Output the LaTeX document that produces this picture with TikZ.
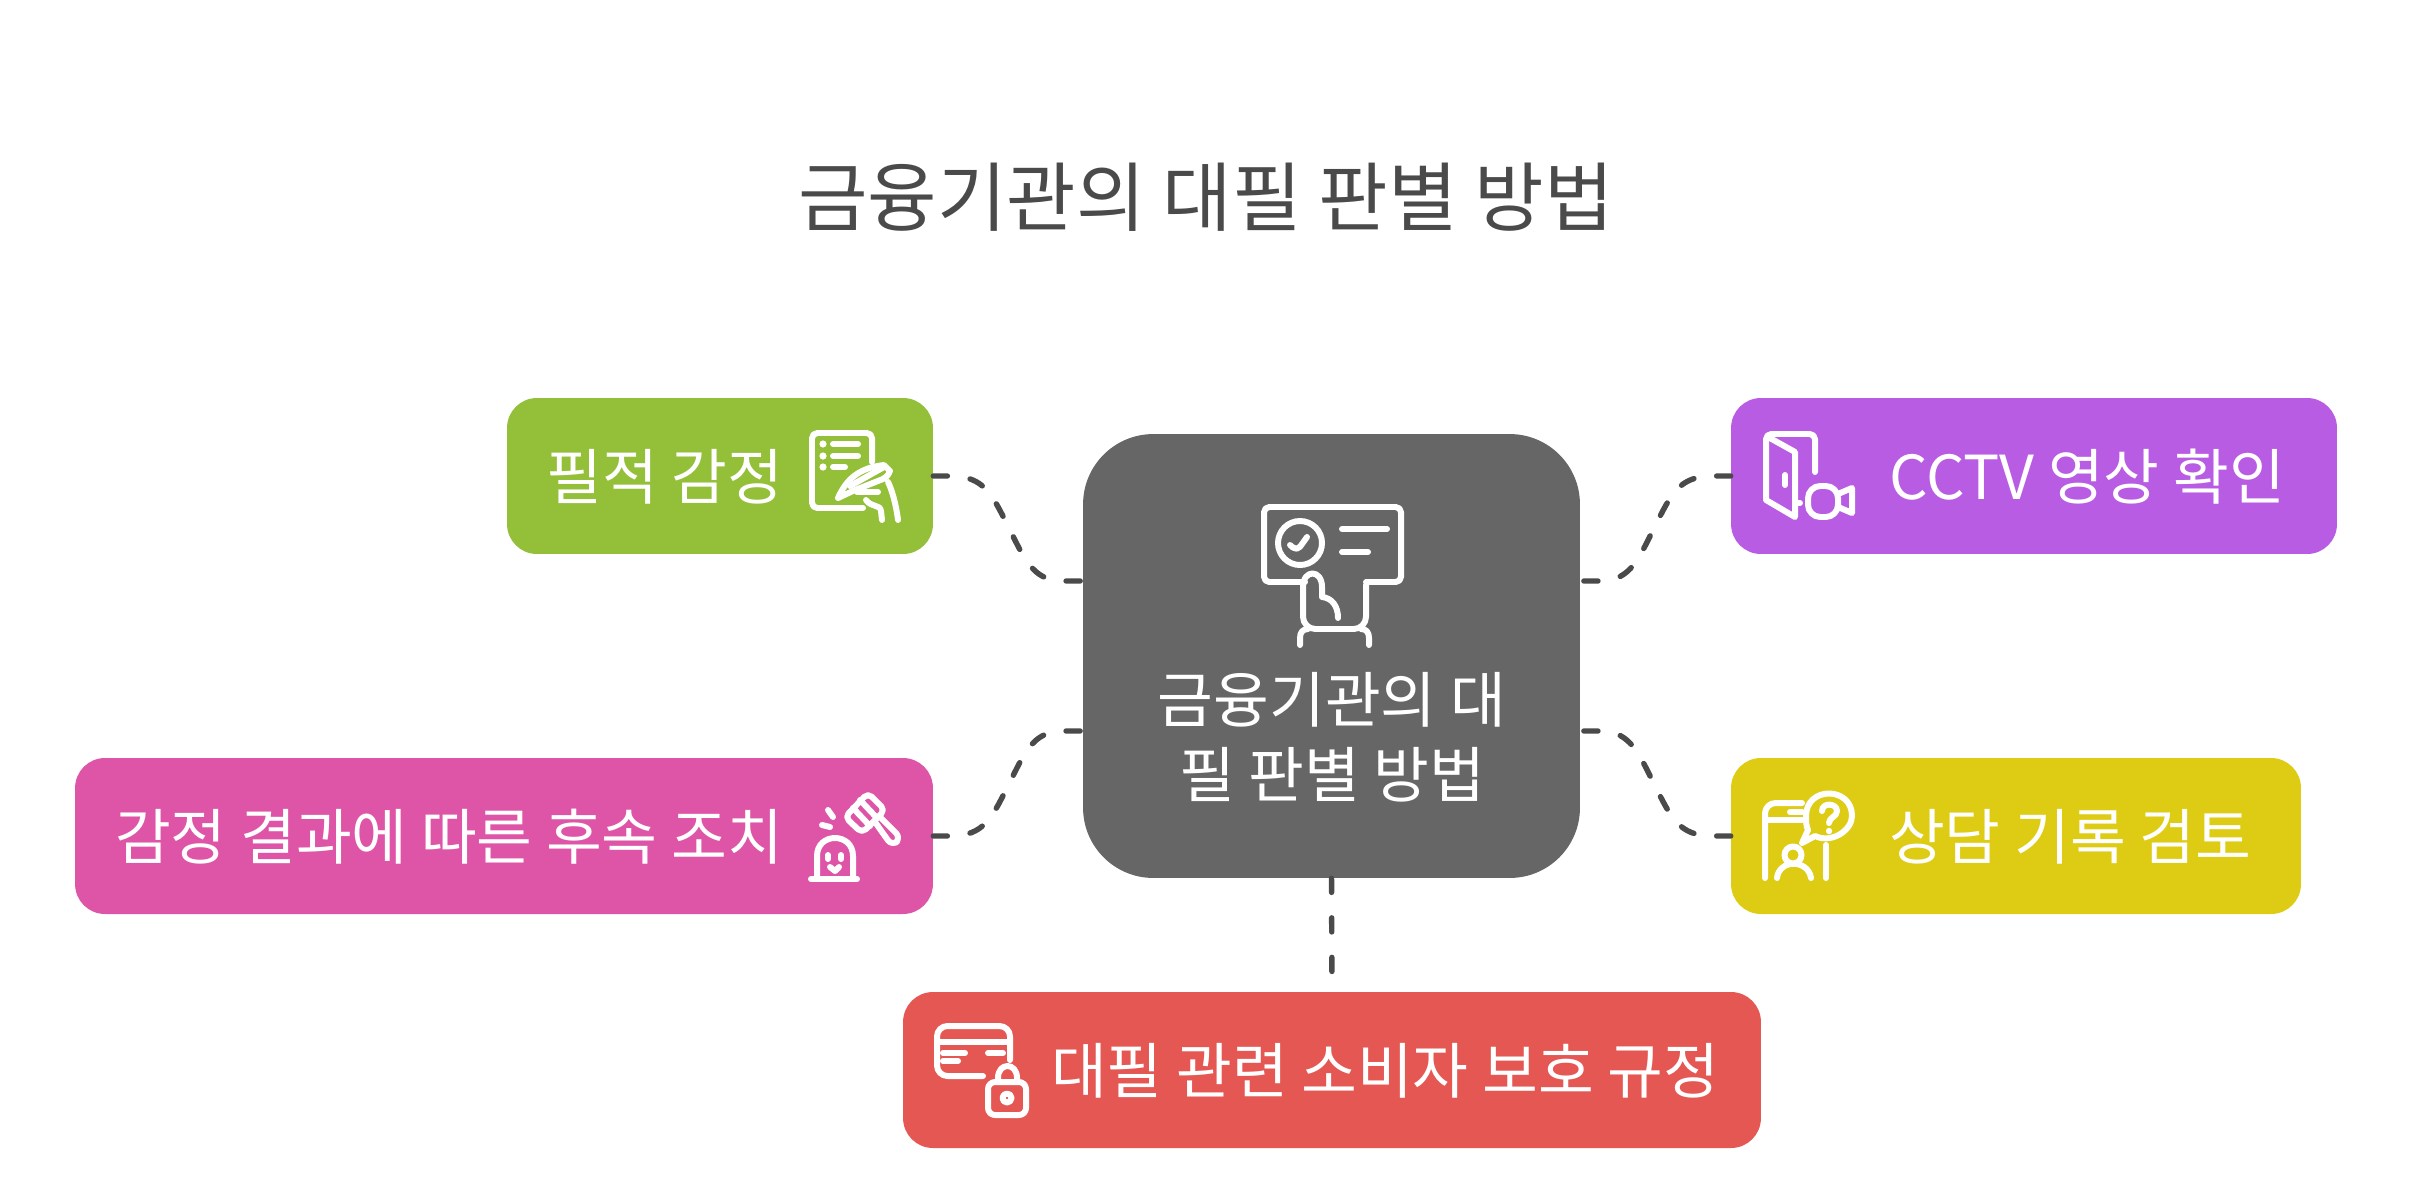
\documentclass[tikz,border=0pt]{standalone}
\usepackage{fontspec}
\setmainfont{Noto Sans CJK KR}
\definecolor{hubgray}{HTML}{666666}
\definecolor{inkgray}{HTML}{4A4A4A}
\definecolor{pengreen}{HTML}{93BF39}
\definecolor{cctvpurple}{HTML}{B85CE3}
\definecolor{gavelpink}{HTML}{DE55A8}
\definecolor{talkyellow}{HTML}{DECC14}
\definecolor{cardred}{HTML}{E55753}
\begin{document}
\begin{tikzpicture}[
    x=0.02cm,
    y=-0.02cm,
    line cap=round,
    line join=round,
    box/.style={rectangle, rounded corners=17pt, inner sep=0pt, minimum height=3.12cm},
    hub/.style={rectangle, rounded corners=40pt, inner sep=0pt, fill=hubgray, minimum width=9.94cm, minimum height=8.88cm},
    label/.style={text=white, font=\fontsize{34.5pt}{42.5pt}\selectfont, align=center},
    link/.style={draw=inkgray, line width=3.1pt, dash pattern=on 8pt off 13.1pt},
    icon/.style={draw=white, line width=3.4pt, rounded corners=3pt},
    dotfill/.style={fill=white, draw=none}
]
\useasboundingbox (0,0) rectangle (2412,1180);

\node[text=inkgray, font=\fontsize{43pt}{48pt}\selectfont] (title) at (1206,197) {금융기관의 대필 판별 방법};

\node[hub] (method) at (1331.5,656) {};
\node[box, fill=pengreen, minimum width=8.52cm] (pen) at (720,476) {};
\node[box, fill=cctvpurple, minimum width=12.12cm] (cctv) at (2034,476) {};
\node[box, fill=gavelpink, minimum width=17.16cm] (gavel) at (504,836) {};
\node[box, fill=talkyellow, minimum width=11.4cm] (talk) at (2016,836) {};
\node[box, fill=cardred, minimum width=17.16cm] (card) at (1332,1070) {};

\node[label] (methodtext) at (1332,737) {금융기관의 대\\필 판별 방법};
\node[label] (pentext) at (665,477) {필적 감정};
\node[label] (cctvtext) at (2087,477) {CCTV 영상 확인};
\node[label] (gaveltext) at (449,837) {감정 결과에 따른 후속 조치};
\node[label] (talktext) at (2070,837) {상담 기록 검토};
\node[label] (cardtext) at (1385,1071) {대필 관련 소비자 보호 규정};

\coordinate (hubNW) at (1083,581);
\coordinate (hubSW) at (1083,731);
\coordinate (hubNE) at (1580,581);
\coordinate (hubSE) at (1580,731);

\draw[link] (pen.east) -- (950,476) .. controls (985,476) and (992,495) .. (1009,528) .. controls (1027,565) and (1035,581) .. (1065,581) -- (hubNW);
\draw[link] (gavel.east) -- (950,836) .. controls (985,836) and (992,817) .. (1009,784) .. controls (1027,747) and (1035,731) .. (1065,731) -- (hubSW);
\draw[link] (cctv.west) -- (1713,476) .. controls (1678,476) and (1671,495) .. (1654,528) .. controls (1636,565) and (1628,581) .. (1598,581) -- (hubNE);
\draw[link] (talk.west) -- (1713,836) .. controls (1678,836) and (1671,817) .. (1654,784) .. controls (1636,747) and (1628,731) .. (1598,731) -- (hubSE);
\draw[link, dash pattern=on 8pt off 14.5pt] (method.south) -- (card.north);

% hub
\draw[icon] (1305,582) -- (1264,582) -- (1264,507) -- (1401,507) -- (1401,582) -- (1366,582);
\draw[icon] (1300,543) circle (22);
\draw[icon] (1290,545) -- (1297,551) -- (1307,537);
\draw[icon] (1342,529) -- (1387,529);
\draw[icon] (1342,552) -- (1368,552);
\draw[icon, rounded corners=0pt] (1303,587) .. controls (1303,569) and (1322,569) .. (1322,587) -- (1322,597) .. controls (1332,598) and (1338,606) .. (1338,618);
\draw[icon, rounded corners=7pt] (1303,587) -- (1303,629) -- (1366,629) -- (1366,585);
\draw[icon, rounded corners=0pt] (1300,645) -- (1300,638) .. controls (1300,632) and (1303,629) .. (1308,629);
\draw[icon, rounded corners=0pt] (1369,645) -- (1369,638) .. controls (1369,632) and (1366,629) .. (1361,629);

% pen
\draw[icon] (872,462) -- (872,433) -- (812,433) -- (812,508) -- (863,508);
\foreach \y in {444,456,467} {
  \fill[dotfill] (823,\y) circle (3.6);
}
\draw[icon] (833,444) -- (858,444);
\draw[icon] (833,456) -- (858,456);
\draw[icon] (833,467) -- (845,467);
\draw[icon, rounded corners=0pt] (838,498) .. controls (846,480) and (858,468) .. (884,465) -- (890,471) .. controls (888,476) and (886,477) .. (883,479) -- (855,490) -- (838,498);
\draw[icon, rounded corners=0pt] (850,486) -- (884,467);
\draw[icon, rounded corners=0pt] (857,492) -- (878,492);
\draw[icon, rounded corners=0pt] (866,500) .. controls (872,508) and (880,504) .. (881,511) -- (882,520);
\draw[icon, rounded corners=0pt] (888,482) .. controls (892,490) and (896,504) .. (898,520);

% cctv
\draw[icon] (1815,472) -- (1815,434) -- (1766,434) -- (1766,498);
\draw[icon, rounded corners=0pt] (1768,437) -- (1795,452) -- (1795,517) -- (1766,500);
\draw[icon] (1785,475) -- (1785,485);
\draw[icon] (1795,503) -- (1800,503);
\draw[icon, rounded corners=7pt] (1808,486) rectangle (1838,517);
\draw[icon, rounded corners=0pt] (1838,494) -- (1852,488) -- (1852,513) -- (1838,507);

% gavel
\draw[icon] (868,793) -- (885,810) -- (862,833) -- (845,817) -- cycle;
\draw[icon, rounded corners=0pt] (860,800) -- (877,818);
\draw[icon, rounded corners=0pt] (853,808) -- (870,826);
\draw[icon, rounded corners=4pt] (875,822) -- (892,846) -- (901,838) -- (880,817);
\draw[icon] (828,810) -- (833,817);
\draw[icon] (822,825) -- (830,827);
\draw[icon, rounded corners=0pt] (817,878) -- (817,856) .. controls (817,832) and (853,832) .. (853,856) -- (853,878);
\draw[icon] (811,879) -- (857,879);
\draw[icon] (828,855) -- (828,859);
\draw[icon] (841,855) -- (841,859);
\draw[icon, rounded corners=0pt] (830,867) -- (835,871) -- (839,867);

% talk
\draw[icon, rounded corners=6pt] (1802,803) -- (1765,803) -- (1765,878);
\draw[icon] (1790,812) -- (1802,812);
\draw[icon] (1767,820) -- (1802,820);
\draw[icon, rounded corners=0pt] (1808,830) -- (1802,843) -- (1815,836) .. controls (1832,844) and (1852,830) .. (1852,816) .. controls (1852,786) and (1806,786) .. (1806,816) .. controls (1806,821) and (1806,826) .. (1808,830);
\draw[icon, rounded corners=0pt] (1822,811) .. controls (1822,802) and (1837,803) .. (1837,811) .. controls (1837,817) and (1829,817) .. (1829,823);
\fill[dotfill] (1829,831) circle (3.2);
\draw[icon] (1793,855) circle (8.5);
\draw[icon, rounded corners=0pt] (1777,878) .. controls (1779,859) and (1808,859) .. (1811,878);
\draw[icon] (1826,845) -- (1826,878);

% card
\draw[icon, rounded corners=6pt] (1010,1060) -- (1010,1026) -- (937,1026) -- (937,1076) -- (983,1076);
\draw[icon] (938,1042) -- (1009,1042);
\draw[icon] (943,1053) -- (965,1053);
\draw[icon] (943,1061) -- (958,1061);
\draw[icon] (988,1053) -- (1003,1053);
\draw[icon, rounded corners=4pt] (988,1082) rectangle (1026,1115);
\draw[icon, rounded corners=0pt] (998,1082) -- (998,1078) .. controls (998,1062) and (1017,1062) .. (1017,1078) -- (1017,1082);
\draw[icon] (1007,1098) circle (4.5);
\end{tikzpicture}
\end{document}
